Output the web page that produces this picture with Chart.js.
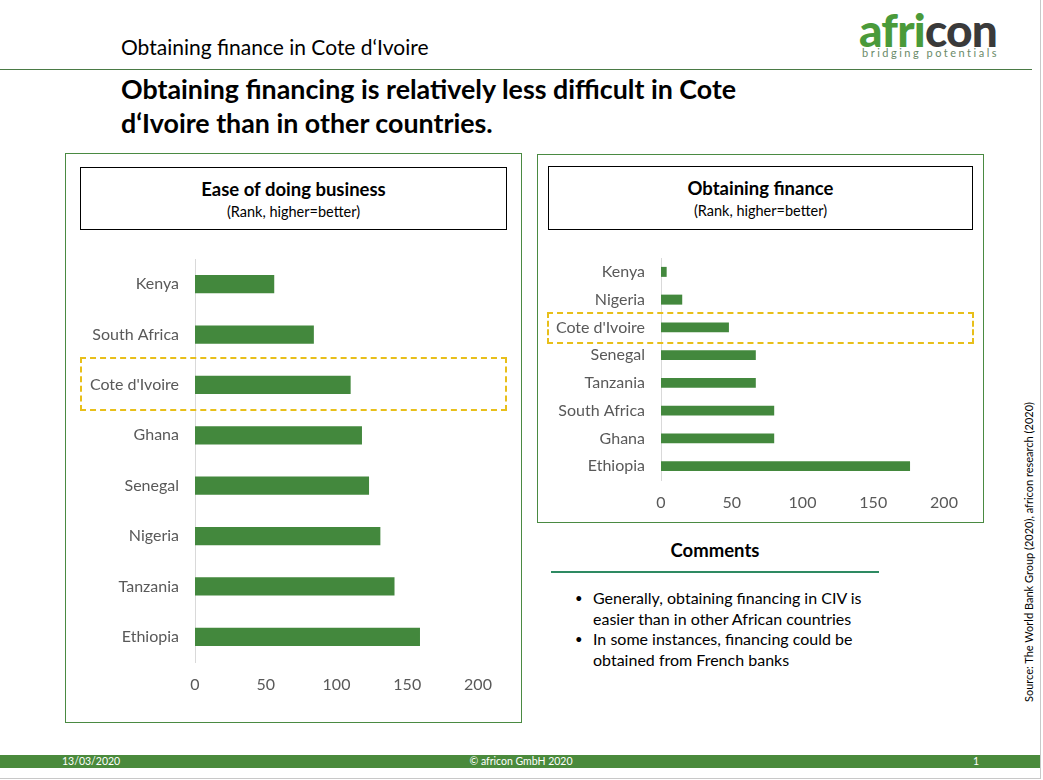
<!DOCTYPE html>
<html>
<head>
<meta charset="utf-8">
<script src="https://cdn.jsdelivr.net/npm/chart.js@4"></script>
<style>
  body { margin: 0; background: #fff; font-family: Lato, "Open Sans", sans-serif; }
  #slide { position: relative; width: 1040px; height: 778px; border-right: 1px solid #c8c8c8; border-bottom: 1px solid #c8c8c8; overflow: hidden; }
  .abs { position: absolute; }
  .panel { position: absolute; border: 1px solid #4a8a42; }
  .tbox { position: absolute; border: 1px solid #000; text-align: center; color: #000; }
  .tbox b { display: block; font-size: 18.5px; margin-top: 9px; line-height: 24px; }
  .tbox span { font-size: 14.5px; line-height: 18px; }
  .dash { position: absolute; border: 2px dashed #e8bf1a; }
  canvas { position: absolute; }
</style>
</head>
<body>
<div id="slide">
  <div class="abs" style="left:121px; top:34px; font-size:21px; color:#000;">Obtaining finance in Cote d‘Ivoire</div>
  <div class="abs" style="left:0; top:69px; width:1032px; height:1px; background:#4a7a45;"></div>

  <div class="abs" style="left:859px; top:8px; font-size:46px; font-weight:900; letter-spacing:-0.8px; line-height:44px;"><span style="color:#4a9a3a">afri</span><span style="color:#3a3a3a">con</span></div>
  <div class="abs" style="left:862px; top:46px; font-size:11px; letter-spacing:2.5px; color:#6a8a68;">bridging potentials</div>

  <div class="abs" style="left:121px; top:72px; font-size:26.8px; font-weight:bold; line-height:34px; color:#000;">Obtaining financing is relatively less difficult in Cote<br>d‘Ivoire than in other countries.</div>

  <div class="panel" style="left:65px; top:153px; width:455px; height:568px;"></div>
  <div class="tbox" style="left:80px; top:167px; width:425px; height:61px;"><b>Ease of doing business</b><span>(Rank, higher=better)</span></div>

  <div class="panel" style="left:537px; top:154px; width:445px; height:367px;"></div>
  <div class="tbox" style="left:548px; top:166px; width:423px; height:62px;"><b>Obtaining finance</b><span>(Rank, higher=better)</span></div>

  <canvas id="leftChart" style="left:80px; top:255px;" width="420" height="445"></canvas>
  <canvas id="rightChart" style="left:548px; top:255px;" width="420" height="263"></canvas>

  <div class="dash" style="left:80px; top:357px; width:423px; height:50px;"></div>
  <div class="dash" style="left:547px; top:312px; width:423px; height:28px;"></div>

  <div class="abs" style="left:551px; top:539px; width:328px; text-align:center; font-size:18.5px; font-weight:bold;">Comments</div>
  <div class="abs" style="left:551px; top:571px; width:328px; height:2px; background:#2e8a62;"></div>
  <div class="abs" style="left:575px; top:588px; font-size:16px; line-height:20.7px; color:#000;">
    <div style="position:relative; padding-left:18px;"><span style="position:absolute; left:0; font-size:13px;">•</span>Generally, obtaining financing in CIV is<br>easier than in other African countries</div>
    <div style="position:relative; padding-left:18px;"><span style="position:absolute; left:0; font-size:13px;">•</span>In some instances, financing could be<br>obtained from French banks</div>
  </div>

  <div class="abs" style="left:1028px; top:552px; transform:translate(-50%,-50%) rotate(-90deg); white-space:nowrap; font-size:11px; color:#000;">Source: The World Bank Group (2020), africon research (2020)</div>

  <div class="abs" style="left:0; top:755px; width:1040px; height:13px; background:#4a8a3c;"></div>
  <div class="abs" style="left:62px; top:755px; font-size:10.5px; line-height:13px; color:#fff;">13/03/2020</div>
  <div class="abs" style="left:521px; top:755px; transform:translateX(-50%); font-size:10.5px; line-height:13px; color:#fff;">© africon GmbH 2020</div>
  <div class="abs" style="left:973px; top:755px; font-size:10.5px; line-height:13px; color:#fff;">1</div>
</div>

<script>
// Ease of doing business ranks (World Bank 2020)
const businessCountries = ["Kenya", "South Africa", "Cote d'Ivoire", "Ghana", "Senegal", "Nigeria", "Tanzania", "Ethiopia"];
const businessRanks = [56, 84, 110, 118, 123, 131, 141, 159];

// Obtaining finance ranks
const financeCountries = ["Kenya", "Nigeria", "Cote d'Ivoire", "Senegal", "Tanzania", "South Africa", "Ghana", "Ethiopia"];
const financeRanks = [4, 15, 48, 67, 67, 80, 80, 176];

const axisTicks = [0, 50, 100, 150, 200];

const barGreen = '#43883d';
const labelGrey = '#595959';

function createRankChart(canvasId, labels, values, yWidth, padTop, padRight) {
  const ctx = document.getElementById(canvasId).getContext('2d');
  new Chart(ctx, {
    type: 'bar',
    data: {
      labels: labels,
      datasets: [{
        data: values,
        backgroundColor: barGreen,
        barPercentage: 0.36,
        categoryPercentage: 1
      }]
    },
    options: {
      indexAxis: 'y',
      responsive: false,
      animation: false,
      layout: { padding: { top: padTop, right: padRight, bottom: 0, left: 0 } },
      plugins: { legend: { display: false }, tooltip: { enabled: false } },
      scales: {
        x: {
          min: 0,
          max: 200,
          afterBuildTicks: function(axis) {
            axis.ticks = axisTicks.map(function(v) { return { value: v }; });
          },
          afterFit: function(axis) { axis.height = 38; axis.paddingLeft = 0; axis.paddingRight = 0; },
          grid: { display: false },
          border: { display: false },
          ticks: { color: labelGrey, font: { family: 'Lato', size: 16 }, padding: 5, maxRotation: 0 }
        },
        y: {
          afterFit: function(axis) { axis.width = yWidth; axis.paddingTop = 0; axis.paddingBottom = 0; },
          grid: { display: false },
          border: { display: true, color: '#d9d9d9', width: 1 },
          ticks: { color: labelGrey, font: { family: 'Lato', size: 16 }, padding: 8 }
        }
      }
    }
  });
}

createRankChart('leftChart', businessCountries, businessRanks, 115, 4, 22);
createRankChart('rightChart', financeCountries, financeRanks, 113, 3, 24);
</script>
</body>
</html>
